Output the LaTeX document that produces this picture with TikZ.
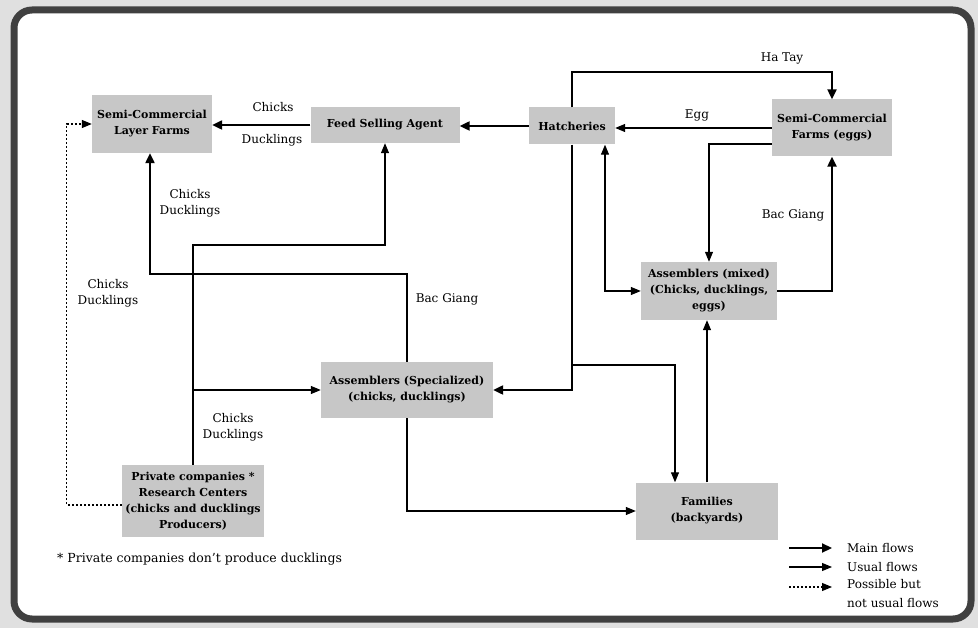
\documentclass[tikz,border=0pt]{standalone}
\usepackage{fontspec}
\setmainfont{DejaVu Serif}
\usetikzlibrary{arrows.meta}

\begin{document}
\begin{tikzpicture}[x=1pt,y=-1pt,
    box/.style={fill=black!22, align=center, inner sep=0pt, font=\bfseries\fontsize{11}{16}\selectfont},
    lbl/.style={align=center, inner sep=0pt, font=\fontsize{12}{16}\selectfont},
    main/.style={line width=2.2pt, -{Triangle[length=10pt,width=9pt]}},
    usual/.style={line width=1.1pt, -{Triangle[length=10pt,width=8pt]}},
    possible/.style={line width=1.1pt, dash pattern=on 2pt off 2pt, -{Triangle[length=10pt,width=8pt]}}]
    \useasboundingbox (0,0) rectangle (978,628);
    \fill[black!12] (0,0) rectangle (978,628);
    \draw[fill=white, draw=black!75, line width=7pt, rounded corners=18pt] (14,10) rectangle (971,619);

    % stakeholders
    \node[box, minimum width=120pt, minimum height=58pt] (scl) at (152,124) {Semi-Commercial\\Layer Farms};
    \node[box, minimum width=149pt, minimum height=36pt] (fsa) at (385,125) {Feed Selling Agent};
    \node[box, minimum width=86pt, minimum height=37pt] (hat) at (572,126) {Hatcheries};
    \node[box, minimum width=120pt, minimum height=57pt] (scf) at (832,128) {Semi-Commercial\\Farms (eggs)};
    \node[box, minimum width=136pt, minimum height=58pt] (am) at (709,291) {Assemblers (mixed)\\(Chicks, ducklings,\\eggs)};
    \node[box, minimum width=172pt, minimum height=56pt] (as) at (407,390) {Assemblers (Specialized)\\(chicks, ducklings)};
    \node[box, minimum width=142pt, minimum height=57pt] (fam) at (707,511) {Families\\(backyards)};
    \node[box, minimum width=142pt, minimum height=72pt] (pc) at (193,501) {Private companies *\\Research Centers\\(chicks and ducklings\\Producers)};

    % bends
    \coordinate (hatop) at (572,72);
    \coordinate (hbr) at (572,365);
    \coordinate (bend) at (407,274);
    \coordinate (pcup) at (193,245);
    \coordinate (pcbr) at (193,390);

    % flows
    \draw[main] (fsa.west) -- (fsa.west -| scl.east);
    \draw[main] (hat.west) -- (hat.west -| fsa.east);
    \draw[usual] (scf.west) -- (scf.west -| hat.east);
    \draw[main] (hat.north) -- (hatop) -| (scf.north);
    \draw[main] (hat.south) |- (as.east);
    \draw[usual] (hbr) -| ([xshift=-32pt]fam.north);
    \draw[usual] ([yshift=-16pt]scf.west) -| (am.north);
    \draw[main] (am.east) -| (scf.south);
    \draw[usual, {Triangle[length=10pt,width=8pt]}-{Triangle[length=10pt,width=8pt]}] ([xshift=33pt]hat.south) |- (am.west);
    \draw[usual] (fam.north) -- (fam.north |- am.south);
    \draw[usual] (as.south) |- (fam.west);
    \draw[main] (as.north) -- (bend) -| ([xshift=-2pt]scl.south);
    \draw[usual] (pc.north) -- (pcup) -| (fsa.south);
    \draw[usual] (pcbr) -- (as.west);
    \draw[possible] ([yshift=-4pt]pc.west) -| ([xshift=-25pt]scl.west) -- (scl.west);

    % labels
    \node[lbl] (l1) at (273,107) {Chicks};
    \node[lbl] (l2) at (272,140) {Ducklings};
    \node[lbl] (l3) at (697,115) {Egg};
    \node[lbl] (l4) at (782,58) {Ha Tay};
    \node[lbl] (l5) at (793,215) {Bac Giang};
    \node[lbl] (l6) at (447,299) {Bac Giang};
    \node[lbl] (l7) at (190,203) {Chicks\\Ducklings};
    \node[lbl] (l8) at (233,427) {Chicks\\Ducklings};
    \node[lbl] (l9) at (108,293) {Chicks\\Ducklings};
    \node[lbl, anchor=west, font=\fontsize{12.5}{16}\selectfont] (note) at (57,559) {* Private companies don't produce ducklings};

    % legend
    \coordinate (k1a) at (789,548); \coordinate (k1b) at (832,548);
    \coordinate (k2a) at (789,567); \coordinate (k2b) at (832,567);
    \coordinate (k3a) at (789,587); \coordinate (k3b) at (832,587);
    \draw[main] (k1a) -- (k1b);
    \draw[usual] (k2a) -- (k2b);
    \draw[possible] (k3a) -- (k3b);
    \node[lbl, anchor=west] (t1) at (847,548) {Main flows};
    \node[lbl, anchor=west] (t2) at (847,567) {Usual flows};
    \node[lbl, anchor=north west, align=left, font=\fontsize{12}{19}\selectfont] (t3) at (847,579) {Possible but\\not usual flows};
\end{tikzpicture}
\end{document}
